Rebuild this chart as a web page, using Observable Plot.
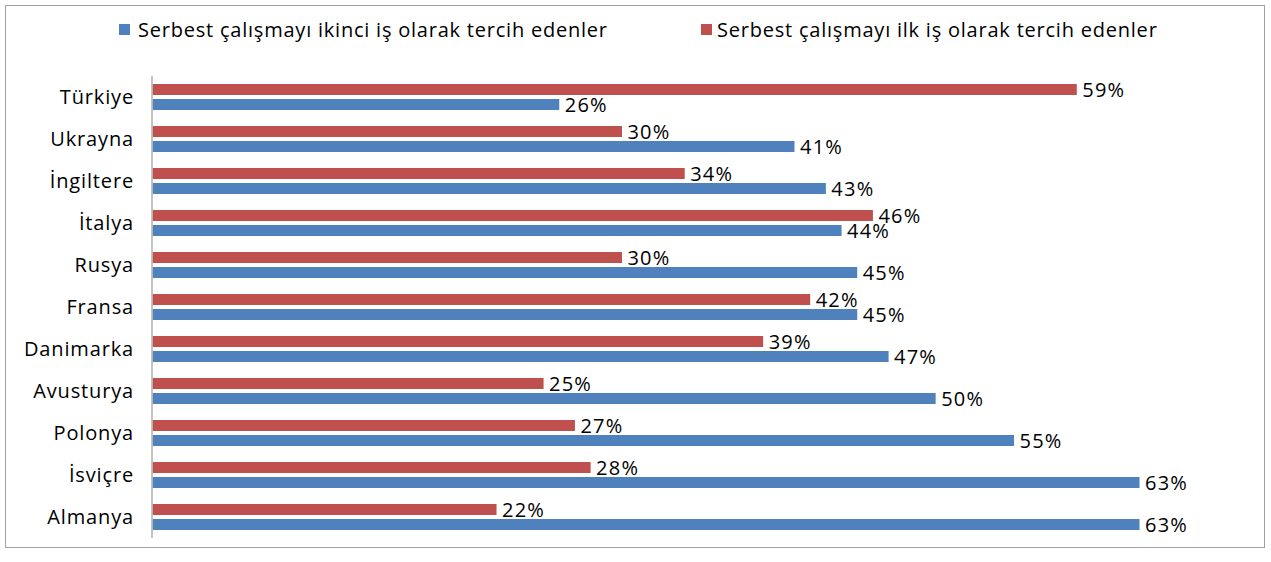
<!DOCTYPE html>
<html>
<head>
<meta charset="utf-8">
<script src="https://cdn.jsdelivr.net/npm/d3@7"></script>
<script src="https://cdn.jsdelivr.net/npm/@observablehq/plot@0.6"></script>
<style>
  html, body { margin: 0; padding: 0; background: #fff; }
  body { width: 1271px; height: 562px; position: relative; overflow: hidden; font-family: "Open Sans", sans-serif; }
  #frame { position: absolute; left: 5px; top: 5px; width: 1260px; height: 543px; border: 1.5px solid #a0a0a0; box-sizing: border-box; }
  #legend { position: absolute; left: 0; top: 0; width: 1271px; height: 60px; }
  .item { position: absolute; top: 16px; display: flex; align-items: center; font-size: 20px; letter-spacing: 0.78px; color: #000; white-space: nowrap; }
  .sw { width: 11px; height: 11px; }
  #chart { position: absolute; left: 0; top: 60px; }
  #chart svg text { letter-spacing: 0.85px; }
</style>
</head>
<body>
<div id="frame"></div>
<div id="legend"></div>
<div id="chart"></div>
<script>
const countries = ["Türkiye","Ukrayna","İngiltere","İtalya","Rusya","Fransa","Danimarka","Avusturya","Polonya","İsviçre","Almanya"];
const ilkIs = [59,30,34,46,30,42,39,25,27,28,22];      // red: first job
const ikinciIs = [26,41,43,44,45,45,47,50,55,63,63];   // blue: second job
const seriesNames = ["Serbest çalışmayı ikinci iş olarak tercih edenler","Serbest çalışmayı ilk iş olarak tercih edenler"];
const seriesColors = ["#4F81BD","#C0504D"];

const red = countries.map((c,i) => ({country: c, value: ilkIs[i]}));
const blue = countries.map((c,i) => ({country: c, value: ikinciIs[i]}));

// legend
const legend = document.getElementById("legend");
const lefts = [119, 701];
const gaps = [8, 5];
seriesNames.forEach((n,i) => {
  const d = document.createElement("div");
  d.className = "item";
  d.style.left = lefts[i] + "px";
  d.innerHTML = `<span class="sw" style="background:${seriesColors[i]};margin-right:${gaps[i]}px"></span><span>${n}</span>`;
  legend.appendChild(d);
});

const chart = Plot.plot({
  width: 1271,
  height: 502,
  marginLeft: 151.5,
  marginRight: 21.7,
  marginTop: 16,
  marginBottom: 24,
  style: {fontFamily: "Open Sans, sans-serif", fontSize: "20px", color: "#000", background: "transparent"},
  x: {domain: [0, 70], axis: null},
  y: {domain: countries, paddingInner: 0.381, paddingOuter: 0.19, label: null, tickSize: 0, tickPadding: 18},
  marks: [
    Plot.barX(red, {x: "value", y: "country", fill: seriesColors[1], insetBottom: 15, insetLeft: 1}),
    Plot.barX(blue, {x: "value", y: "country", fill: seriesColors[0], insetTop: 15, insetLeft: 1}),
    Plot.text(red, {x: "value", y: "country", text: d => d.value + "%", textAnchor: "start", dx: 5, dy: -7, fill: "#000", fontSize: 20}),
    Plot.text(blue, {x: "value", y: "country", text: d => d.value + "%", textAnchor: "start", dx: 5, dy: 8, fill: "#000", fontSize: 20}),
    Plot.ruleX([0], {stroke: "#b0b0b0", strokeWidth: 1.5})
  ]
});
chart.querySelectorAll("g[aria-label='text'] text").forEach(t => t.style.letterSpacing = "1.2px");
document.getElementById("chart").appendChild(chart);
</script>
</body>
</html>
